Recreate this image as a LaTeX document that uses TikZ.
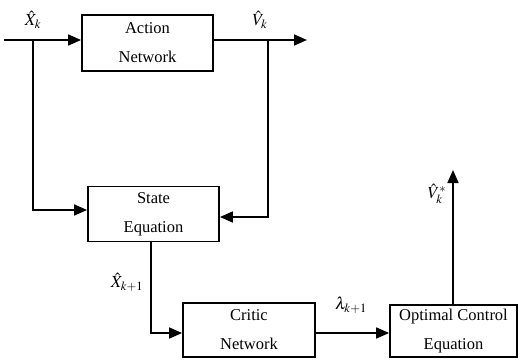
\documentclass[tikz,border=0pt]{standalone}
\usepackage{mathptmx}
\usepackage{fontspec}
\setmainfont{Liberation Serif}
\usetikzlibrary{arrows.meta}
\begin{document}
\begin{tikzpicture}[x=1pt,y=-1pt,
  blk/.style={draw,line width=1.8pt,rectangle,inner sep=0pt,align=center,
    font=\fontsize{16.5}{29}\selectfont},
  conn/.style={line width=1.7pt},
  arr/.style={conn,-{Triangle[length=13pt,width=11pt]}},
  lbl/.style={font=\fontsize{17}{19}\selectfont,inner sep=0pt}]
\useasboundingbox (0,0) rectangle (518,359);
% boxes
\node[blk,minimum width=131pt,minimum height=56pt] (act) at (147.5,43) {Action\\Network};
\node[blk,minimum width=131pt,minimum height=55pt] (st) at (153.5,214) {State\\Equation};
\node[blk,minimum width=132pt,minimum height=54pt] (crit) at (249,330) {Critic\\Network};
\node[blk,minimum width=127pt,minimum height=52pt] (opt) at (453.5,331) {Optimal Control\\Equation};
% helper coordinates
\coordinate (in) at (4,40);
\coordinate (b1) at (33,40);
\coordinate (e1) at (0,210);
\coordinate (b2) at (268,40);
\coordinate (e2) at (0,217);
\coordinate (out) at (307,40);
\coordinate (d1) at (151,0);
\coordinate (e3) at (0,333);
\coordinate (top) at (453,170);
% connectors
\draw[arr] (in) -- (in -| act.west);
\draw[conn] (act.east |- in) -- (b2);
\draw[arr] (b2) -- (out);
\draw[arr] (b1) |- (st.west |- e1);
\draw[arr] (b2) |- (st.east |- e2);
\draw[arr] (st.south -| d1) |- (crit.west |- e3);
\draw[arr] (crit.east |- e3) -- (opt.west |- e3);
\draw[arr] (opt.north -| top) -- (top);
% labels
\node[lbl] (lx) at (33,20) {$\hat{X}_{k}$};
\node[lbl] (lv) at (260,20) {$\hat{V}_{k}$};
\node[lbl] (lx1) at (127,282) {$\hat{X}_{k+1}$};
\node[lbl] (ll) at (351,305) {$\lambda_{k+1}$};
\node[lbl] (lvs) at (437,194) {$\hat{V}_{k}^{*}$};
\end{tikzpicture}
\end{document}
